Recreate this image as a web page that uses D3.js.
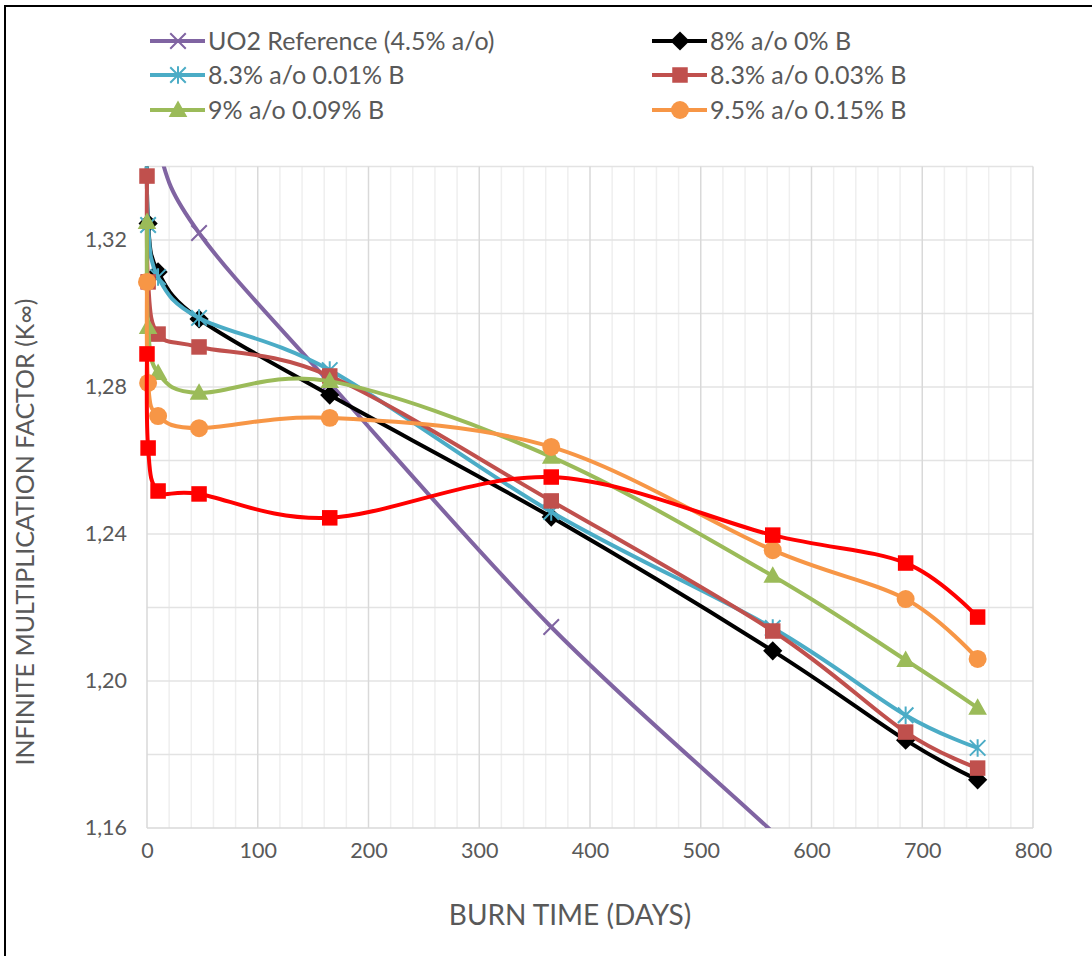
<!DOCTYPE html>
<html><head><meta charset="utf-8">
<script src="https://cdn.jsdelivr.net/npm/d3@7"></script>
<style>
html,body{margin:0;padding:0;background:#fff;}
svg{display:block;font-family:Lato, "Open Sans", sans-serif;}
</style></head>
<body>
<svg id="chart" width="1092" height="956"></svg>
<script>
// ---- data ----
const days = [0, 1, 10, 47, 165, 365, 565, 685, 750];
const uo2Ref   = [1.410, 1.380, 1.346, 1.3219, 1.2811, 1.2147, 1.1589, 1.125, 1.107];
const b0       = [1.353, 1.3245, 1.3113, 1.2985, 1.2778, 1.2446, 1.2082, 1.1839, 1.1731];
const b001     = [1.354, 1.3241, 1.3099, 1.2988, 1.2846, 1.2460, 1.2144, 1.1907, 1.1818];
const b003     = [1.3374, 1.3086, 1.2944, 1.2909, 1.2830, 1.2490, 1.2136, 1.1861, 1.1763];
const b009     = [1.3249, 1.2963, 1.2838, 1.2784, 1.2816, 1.2610, 1.2286, 1.2057, 1.1927];
const b015     = [1.3086, 1.2811, 1.2721, 1.2688, 1.2716, 1.2637, 1.2356, 1.2223, 1.2060];
const extraRed = [1.2890, 1.2634, 1.2517, 1.2509, 1.2444, 1.2555, 1.2397, 1.2321, 1.2174];
const seriesNames = ["UO2 Reference (4.5% a/o)", "8% a/o 0% B", "8.3% a/o 0.01% B",
                     "8.3% a/o 0.03% B", "9% a/o 0.09% B", "9.5% a/o 0.15% B", ""];
const xTicks = [0, 100, 200, 300, 400, 500, 600, 700, 800];
const yTicks = [1.16, 1.20, 1.24, 1.28, 1.32];
const xTitle = "BURN TIME (DAYS)";
const yTitle = "INFINITE MULTIPLICATION FACTOR (K\u221E)";

const seriesValues = [uo2Ref, b0, b001, b003, b009, b015, extraRed];
const styles = [
  {color:"#8064A2", marker:"x"},
  {color:"#000000", marker:"diamond"},
  {color:"#4BACC6", marker:"star"},
  {color:"#C0504D", marker:"square"},
  {color:"#9BBB59", marker:"triangle"},
  {color:"#F79646", marker:"circle"},
  {color:"#FF0000", marker:"square"}
];

const svg = d3.select("#chart");
const x = d3.scaleLinear().domain([0, 800]).range([147, 1033]);
const y = d3.scaleLinear().domain([1.16, 1.34]).range([828, 166.5]);
const fmt = d => d3.format(".2f")(d).replace(".", ",");

// frame
svg.append("rect").attr("x",5).attr("y",6).attr("width",1200).attr("height",1200)
  .attr("fill","none").attr("stroke","#000").attr("stroke-width",2);

// gridlines
const g = svg.append("g");
const minorX = d3.range(0, 801, 20).filter(v => v % 100 !== 0);
g.selectAll(".vminor").data(minorX).join("line")
  .attr("x1", d=>x(d)).attr("x2", d=>x(d)).attr("y1", y(1.34)).attr("y2", y(1.16))
  .attr("stroke","#efefef").attr("stroke-width",1.5);
const hLines = d3.range(0, 10).map(i => 1.16 + i*0.02);
g.selectAll(".h").data(hLines).join("line")
  .attr("x1", x(0)).attr("x2", x(800)).attr("y1", d=>y(d)).attr("y2", d=>y(d))
  .attr("stroke", d => Math.abs(d-1.16)<1e-6 ? "#d9d9d9" : "#e3e3e3").attr("stroke-width",1.5);
g.selectAll(".vmajor").data(xTicks).join("line")
  .attr("x1", d=>x(d)).attr("x2", d=>x(d)).attr("y1", y(1.34)).attr("y2", y(1.16))
  .attr("stroke","#d9d9d9").attr("stroke-width",1.5);

// axes
const xAxis = svg.append("g").attr("transform","translate(0,839)")
  .call(d3.axisBottom(x).tickValues(xTicks).tickSize(0).tickPadding(0));
xAxis.select(".domain").remove();
xAxis.selectAll("text").attr("font-size",21.5).attr("fill","#595959").attr("dy","0.9em")
  .style("font-family","Lato, 'Open Sans', sans-serif");
const yAxis = svg.append("g").attr("transform","translate(127,0)")
  .call(d3.axisLeft(y).tickValues(yTicks).tickFormat(fmt).tickSize(0).tickPadding(0));
yAxis.select(".domain").remove();
yAxis.selectAll("text").attr("font-size",21.5).attr("fill","#595959")
  .style("font-family","Lato, 'Open Sans', sans-serif");

svg.append("text").attr("x",570).attr("y",925).attr("text-anchor","middle")
  .attr("font-size",28).attr("fill","#595959").text(xTitle);
svg.append("text").attr("transform","translate(34,532) rotate(-90)").attr("text-anchor","middle")
  .attr("font-size",25).attr("fill","#595959").text(yTitle);

// clip
svg.append("clipPath").attr("id","plotclip").append("rect")
  .attr("x", x(0)-12).attr("y", y(1.34)).attr("width", x(800)-x(0)+24).attr("height", y(1.16)-y(1.34));

function drawMarker(sel, type, color, size) {
  const s = size;
  if (type === "x") {
    sel.append("path").attr("d", `M${-s/2},${-s/2}L${s/2},${s/2}M${-s/2},${s/2}L${s/2},${-s/2}`)
      .attr("stroke", color).attr("stroke-width", 2).attr("fill","none");
  } else if (type === "star") {
    sel.append("path").attr("d", `M${-s/2},${-s/2}L${s/2},${s/2}M${-s/2},${s/2}L${s/2},${-s/2}M0,${-s/2-1}L0,${s/2+1}`)
      .attr("stroke", color).attr("stroke-width", 2).attr("fill","none");
  } else if (type === "diamond") {
    const r = s*0.62;
    sel.append("path").attr("d", `M0,${-r}L${r},0L0,${r}L${-r},0Z`).attr("fill", color);
  } else if (type === "square") {
    sel.append("rect").attr("x",-s/2).attr("y",-s/2).attr("width",s).attr("height",s).attr("fill",color);
  } else if (type === "triangle") {
    const h = s*1.0;
    sel.append("path").attr("d", `M0,${-h*0.62}L${s*0.6},${h*0.45}L${-s*0.6},${h*0.45}Z`).attr("fill", color);
  } else if (type === "circle") {
    sel.append("circle").attr("r", s*0.58).attr("fill", color);
  }
}

const line = d3.line().x(d=>x(d[0])).y(d=>y(d[1])).curve(d3.curveCardinal.tension(0));
const plot = svg.append("g");
seriesValues.forEach((vals, i) => {
  const st = styles[i];
  const pts = days.map((d, j) => [d, vals[j]]);
  const sg = plot.append("g");
  sg.append("path").attr("d", line(pts)).attr("fill","none").attr("stroke", st.color)
    .attr("stroke-width", 4).attr("clip-path","url(#plotclip)").attr("stroke-linejoin","round");
  pts.filter(p => p[1] <= 1.34 && p[1] >= 1.16).forEach(p => {
    const m = sg.append("g").attr("transform", `translate(${x(p[0])},${y(p[1])})`);
    drawMarker(m, st.marker, st.color, 15.5);
  });
});

// legend
const legendPos = [[150,41],[652,41],[150,75],[652,75],[150,110],[652,110]];
seriesNames.forEach((name, i) => {
  if (!name) return;
  const [lx, ly] = legendPos[i];
  const st = styles[i];
  const lg = svg.append("g").attr("transform", `translate(${lx},${ly})`);
  lg.append("line").attr("x1",0).attr("x2",55).attr("y1",0).attr("y2",0)
    .attr("stroke", st.color).attr("stroke-width",4);
  const m = lg.append("g").attr("transform","translate(28,0)");
  drawMarker(m, st.marker, st.color, 15.5);
  lg.append("text").attr("x",58).attr("y",0).attr("dy","0.36em").attr("font-size",25)
    .attr("fill","#595959").text(name);
});
</script>
</body></html>
